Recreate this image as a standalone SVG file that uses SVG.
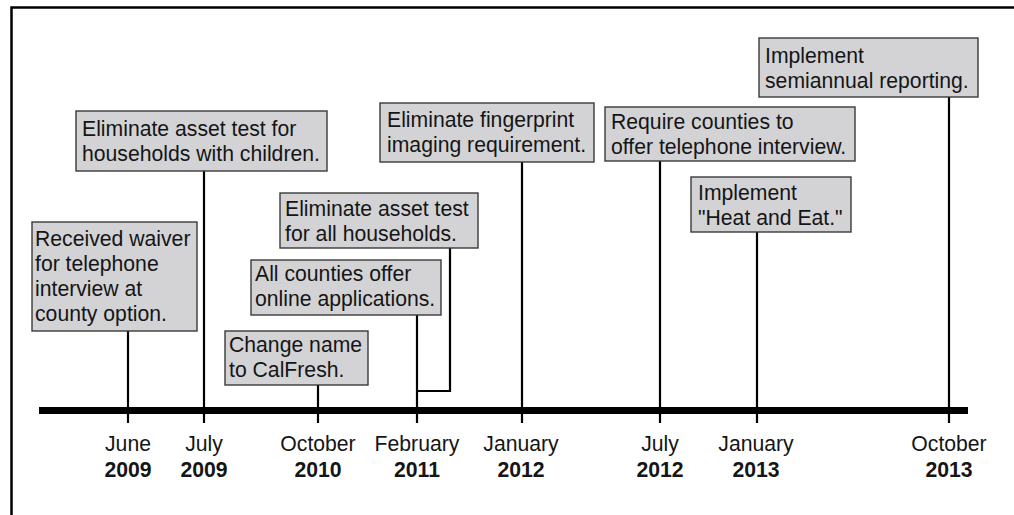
<svg xmlns="http://www.w3.org/2000/svg" width="1014" height="515" viewBox="0 0 1014 515">
<style>
.box{fill:#d3d3d5;stroke:#3a3a3a;stroke-width:1.4}
.t{font-family:"Liberation Sans",Arial,sans-serif;font-size:21.2px;fill:#151515}
.m{font-family:"Liberation Sans",Arial,sans-serif;font-size:21.2px;fill:#151515;text-anchor:middle}
.y{font-family:"Liberation Sans",Arial,sans-serif;font-size:21.2px;font-weight:bold;fill:#151515;text-anchor:middle}
.c{stroke:#000;stroke-width:2.2;fill:none}
</style>
<rect width="1014" height="515" fill="#fff"/>
<path d="M1014 7.5H11.5V515" fill="none" stroke="#000" stroke-width="2.5"/>
<g id="connectors">
<path class="c" d="M128 331V423"/>
<path class="c" d="M204 171V423"/>
<path class="c" d="M318 385V423"/>
<path class="c" d="M417 315V423"/>
<path class="c" d="M450 248V391H417"/>
<path class="c" d="M522 162V423"/>
<path class="c" d="M660 161V423"/>
<path class="c" d="M757 232V423"/>
<path class="c" d="M949 97V423"/>
</g>
<g id="axis">
<rect x="39" y="407" width="929" height="7" fill="#000"/>
</g>
<g id="labels">
<text class="m" x="128" y="451">June</text><text class="y" x="128" y="477">2009</text>
<text class="m" x="204" y="451">July</text><text class="y" x="204" y="477">2009</text>
<text class="m" x="318" y="451">October</text><text class="y" x="318" y="477">2010</text>
<text class="m" x="417" y="451">February</text><text class="y" x="417" y="477">2011</text>
<text class="m" x="521" y="451">January</text><text class="y" x="521" y="477">2012</text>
<text class="m" x="660" y="451">July</text><text class="y" x="660" y="477">2012</text>
<text class="m" x="756" y="451">January</text><text class="y" x="756" y="477">2013</text>
<text class="m" x="949" y="451">October</text><text class="y" x="949" y="477">2013</text>
</g>
<g id="n1">
<rect class="box" x="32" y="222" width="165" height="109"/>
<text class="t" x="35" y="246">Received waiver</text>
<text class="t" x="35" y="271">for telephone</text>
<text class="t" x="35" y="296">interview at</text>
<text class="t" x="35" y="321">county option.</text>
</g>
<g id="n2">
<rect class="box" x="76" y="111" width="251" height="60"/>
<text class="t" x="82" y="136">Eliminate asset test for</text>
<text class="t" x="82" y="161">households with children.</text>
</g>
<g id="n3">
<rect class="box" x="225" y="331" width="143" height="54"/>
<text class="t" x="229" y="352">Change name</text>
<text class="t" x="229" y="377">to CalFresh.</text>
</g>
<g id="n4">
<rect class="box" x="251" y="260" width="190" height="55"/>
<text class="t" x="255" y="281">All counties offer</text>
<text class="t" x="255" y="306">online applications.</text>
</g>
<g id="n5">
<rect class="box" x="280" y="193" width="198" height="55"/>
<text class="t" x="285" y="216">Eliminate asset test</text>
<text class="t" x="285" y="241">for all households.</text>
</g>
<g id="n6">
<rect class="box" x="380" y="103" width="214" height="59"/>
<text class="t" x="387" y="127">Eliminate fingerprint</text>
<text class="t" x="387" y="152">imaging requirement.</text>
</g>
<g id="n7">
<rect class="box" x="605" y="107" width="250" height="54"/>
<text class="t" x="611" y="129">Require counties to</text>
<text class="t" x="611" y="154">offer telephone interview.</text>
</g>
<g id="n8">
<rect class="box" x="691" y="177" width="160" height="55"/>
<text class="t" x="698" y="200">Implement</text>
<text class="t" x="698" y="225">"Heat and Eat."</text>
</g>
<g id="n9">
<rect class="box" x="759" y="38" width="219" height="59"/>
<text class="t" x="765" y="63">Implement</text>
<text class="t" x="765" y="88">semiannual reporting.</text>
</g>
</svg>
